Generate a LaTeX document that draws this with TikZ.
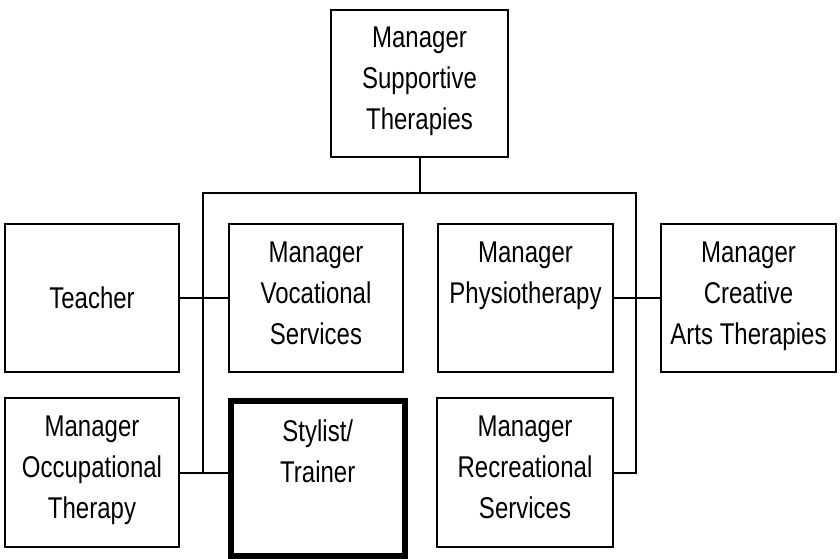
\documentclass[tikz,border=0pt]{standalone}
\usepackage{fontspec}
\setmainfont{Liberation Sans}[FakeStretch=0.8]
\begin{document}
\begin{tikzpicture}[x=1pt,y=-1pt,
  box/.style={draw, line width=2pt, rectangle, inner sep=0pt, minimum width=175pt, minimum height=148pt},
  lbl/.style={anchor=north, inner sep=0pt, align=center, font=\fontsize{30}{41}\selectfont, yshift=-19pt},
  conn/.style={line width=2pt}]
\useasboundingbox[fill=white] (0,0) rectangle (840,559);
\node[box, minimum width=177pt, minimum height=147pt, label={[lbl, yshift=1pt]north:Manager\\Supportive\\Therapies}] (top) at (419.5,83.5) {};
\node[box, minimum width=174pt, font=\fontsize{30}{41}\selectfont] (teach) at (92,298) {Teacher};
\node[box, minimum width=174pt, label={[lbl]north:Manager\\Vocational\\Services}] (voc) at (316,298) {};
\node[box, label={[lbl]north:Manager\\Physiotherapy}] (phys) at (525.5,298) {};
\node[box, label={[lbl]north:Manager\\Creative\\Arts Therapies}] (cre) at (748.5,298) {};
\node[box, minimum width=174pt, minimum height=149pt, label={[lbl]north:Manager\\Occupational\\Therapy}] (occ) at (92,472.5) {};
\node[box, line width=6pt, minimum width=174.5pt, minimum height=154.5pt, label={[lbl, yshift=-3pt]north:Stylist/\\Trainer}] (sty) at (317.75,478.25) {};
\node[box, minimum width=176pt, minimum height=149pt, label={[lbl]north:Manager\\Recreational\\Services}] (rec) at (525,472.5) {};
\coordinate (bl) at (203,193);
\coordinate (br) at (636,193);
\draw[conn] (top.south) -- (top.south |- bl);
\draw[conn] (occ.east -| bl) -- (bl) -- (br) -- (br |- rec.east) -- (rec.east);
\draw[conn] (teach.east) -- (voc.west);
\draw[conn] (phys.east) -- (cre.west);
\draw[conn] (occ.east) -- (occ.east -| sty.west);
\end{tikzpicture}
\end{document}
